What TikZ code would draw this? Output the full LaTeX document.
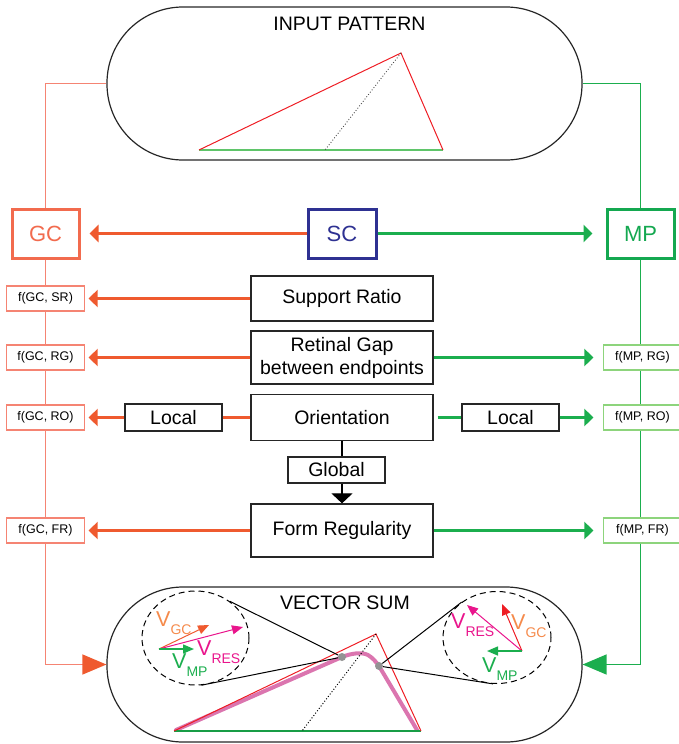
\documentclass[tikz,border=0pt]{standalone}
\usepackage{fontspec}
\setmainfont{Liberation Sans}
\usepackage{xcolor}
\usepackage{tikz}
\usetikzlibrary{shapes.geometric, arrows.meta, positioning, calc}

\definecolor{gcred}{HTML}{EF5A2F}
\definecolor{gcbox}{HTML}{F26B4E}
\definecolor{gcline}{HTML}{F58473}
\definecolor{mpgreen}{HTML}{1BAE4E}
\definecolor{mpbox}{HTML}{14A850}
\definecolor{mpline}{HTML}{8DD47C}
\definecolor{scblue}{HTML}{2E3192}
\definecolor{vgc}{HTML}{F58A4B}
\definecolor{vres}{HTML}{E9158C}
\definecolor{trired}{HTML}{EE1D24}
\definecolor{pinkpath}{HTML}{D766A6}

\newcommand{\vsub}[1]{V\raisebox{-8.5pt}{\fontsize{14}{15}\selectfont #1}}

\tikzset{
  bigtxt/.style={font=\fontsize{19.5}{23}\selectfont},
  cuebox/.style={draw=black!85, line width=1.3pt, fill=white, minimum width=182pt, bigtxt, align=center},
  keybox/.style={draw, line width=3pt, fill=white, minimum width=67pt, minimum height=49pt, font=\fontsize{22}{24}\selectfont},
  fbox/.style={draw, line width=1.2pt, fill=white, minimum width=78pt, minimum height=25pt, font=\fontsize{12.5}{14}\selectfont},
  stadium/.style={draw=black!85, line width=1.2pt, minimum width=475pt, rounded corners=76pt},
  tolt/.style={-{Triangle[length=9pt,width=17pt]}, line width=3pt, gcred},
  tort/.style={-{Triangle[length=9pt,width=17pt]}, line width=3pt, mpgreen},
  vec/.style={-{Triangle[length=11pt,width=9pt]}, line width=1pt},
  gdot/.style={circle, fill=gray!85, inner sep=0pt, minimum size=8pt},
  zoomring/.style={ellipse, draw, dash pattern=on 6pt off 4pt, line width=1pt, inner sep=0pt},
  vtxt/.style={font=\fontsize{21.5}{23}\selectfont, anchor=base west, inner sep=0pt},
}

\begin{document}
\begin{tikzpicture}[x=1pt, y=-1pt]
  \useasboundingbox (0,0) rectangle (678,744);

  % Input pattern
  \node[stadium, minimum height=153pt] (input) at (344.5,83.5) {};
  \node[bigtxt] (inlbl) at (349.5,24) {INPUT PATTERN};
  \draw[mpline!60!mpgreen, line width=2pt] (199,150) -- (443,150);
  \draw[trired, line width=1pt] (199,150) -- (401,53) -- (443,150);
  \draw[black!70, dotted, line width=0.9pt] (401,53) -- (325,150);

  % Grouping cues
  \node[keybox, draw=gcbox, text=gcbox] (gc) at (45.5,233.5) {GC};
  \node[keybox, draw=scblue, text=scblue, minimum width=68pt] (sc) at (342,233.5) {SC};
  \node[keybox, draw=mpbox, text=mpbox] (mp) at (640.5,233.5) {MP};

  % Cue boxes
  \node[cuebox, minimum height=45pt] (sr) at (342,298.5) {Support Ratio};
  \node[cuebox, minimum height=53pt] (rg) at (342,357.5) {Retinal Gap\\between endpoints};
  \node[cuebox, minimum height=46pt] (ori) at (342,417.5) {Orientation};
  \node[cuebox, minimum width=97pt, minimum height=26pt, inner sep=0pt] (glob) at (336.5,470) {Global};
  \node[cuebox, minimum height=53pt] (fr) at (342,530.5) {Form Regularity};
  \node[cuebox, minimum width=97pt, minimum height=27pt, inner sep=0pt] (locl) at (173.5,417.5) {Local};
  \node[cuebox, minimum width=97pt, minimum height=27pt, inner sep=0pt] (locr) at (510.5,417.5) {Local};

  % Weight functions
  \node[fbox, draw=gcline] (fgcsr) at (45.5,298.5) {f(GC, SR)};
  \node[fbox, draw=gcline] (fgcrg) at (45.5,357.5) {f(GC, RG)};
  \node[fbox, draw=gcline] (fgcro) at (45.5,417.5) {f(GC, RO)};
  \node[fbox, draw=gcline] (fgcfr) at (45.5,530.5) {f(GC, FR)};
  \node[fbox, draw=mpline] (fmprg) at (642.5,357.5) {f(MP, RG)};
  \node[fbox, draw=mpline] (fmpro) at (642.5,417.5) {f(MP, RO)};
  \node[fbox, draw=mpline] (fmpfr) at (642.5,530.5) {f(MP, FR)};

  % Horizontal arrows
  \draw[tolt, shorten >=9pt] (sc) -- (gc);
  \draw[tort, shorten >=13pt] (sc) -- (mp);
  \draw[tolt, shorten >=3.5pt] (sr) -- (fgcsr);
  \draw[tolt, shorten >=3.5pt] (rg) -- (fgcrg);
  \draw[tort, shorten >=9.5pt] (rg) -- (fmprg);
  \draw[gcred, line width=3pt] (ori) -- (locl);
  \draw[tolt, shorten >=3.5pt] (locl) -- (fgcro);
  \draw[mpgreen, line width=3pt, shorten <=4pt] (ori) -- (locr);
  \draw[tort, shorten >=9.5pt] (locr) -- (fmpro);
  \draw[tolt, shorten >=3.5pt] (fr) -- (fgcfr);
  \draw[tort, shorten >=9.5pt] (fr) -- (fmpfr);
  \draw[line width=1.2pt] (ori.south) -- (ori.south |- glob.north);
  \draw[line width=1.2pt, -{Triangle[length=10pt,width=21pt]}] (ori.south |- glob.south) -- (fr.north);

  % Side lines
  \draw[gcline, line width=1.4pt] (input.west) -| (gc.north);
  \draw[gcline, line width=1.4pt] (gc) -- (fgcsr) (fgcsr) -- (fgcrg) (fgcrg) -- (fgcro) (fgcro) -- (fgcfr);
  \draw[mpgreen, line width=1.4pt] (input.east) -| (mp.north);
  \draw[mpgreen, line width=1.4pt] (mp.south) -- (mp.south |- fmprg.north)
    (fmprg.south -| mp) -- (fmpro.north -| mp) (fmpro.south -| mp) -- (fmpfr.north -| mp);

  % Vector sum
  \node[stadium, minimum height=155pt] (vecsum) at (344.5,664.5) {};
  \node[bigtxt] (vslbl) at (345,603) {VECTOR SUM};
  \draw[gcline, line width=1.4pt, -{Triangle[length=24pt,width=20pt,color=gcred]}] (fgcfr) |- (vecsum.west);
  \draw[mpgreen, line width=1.4pt, -{Triangle[length=24pt,width=20pt]}] (fmpfr.south -| mp) |- (vecsum.east);

  \draw[pinkpath, line width=4pt, line cap=round, opacity=0.9] (176,730) -- (342,657)
    .. controls (352,653) and (362,652) .. (368,655)
    .. controls (373,658) and (376,662) .. (379,666) -- (417,730);
  \draw[mpgreen!90!black, line width=1.2pt] (174,731) -- (421,731);
  \draw[trired, line width=1pt] (174,731) -- (376,634) -- (421,731);
  \draw[black, dotted, line width=1pt] (376,634) -- (302,731);

  \node[gdot] (pl) at (342,657) {};
  \node[gdot] (pr) at (379,666) {};
  \node[zoomring, minimum width=107pt, minimum height=94pt] (zl) at (195.5,638) {};
  \node[zoomring, minimum width=108pt, minimum height=92pt] (zr) at (497,637.5) {};
  \draw[line width=1pt] (zl.47) -- (pl) (zl.-83) -- (pl);
  \draw[line width=1pt] (zr.135) -- (pr) (zr.-95) -- (pr);

  % Left close-up
  \draw[vec, gcred] (159,649) -- (209,625);
  \draw[vec, vres] (159,649) -- (243,627);
  \draw[vec, mpgreen, line width=1.5pt] (159,649) -- (194,649);
  \node[vtxt, text=vgc] (lgc) at (156,626) {\vsub{GC}};
  \node[vtxt, text=vres] (lres) at (197,655) {\vsub{RES}};
  \node[vtxt, text=mpgreen] (lmp) at (172,668) {\vsub{MP}};

  % Right close-up
  \draw[vec, vres] (522,651) -- (467,605);
  \draw[vec, trired] (522,651) -- (502,604);
  \draw[vec, mpgreen, line width=1.5pt] (522,651) -- (487,651);
  \node[vtxt, text=vres] (rres) at (451,628) {\vsub{RES}};
  \node[vtxt, text=vgc] (rgc) at (511,629) {\vsub{GC}};
  \node[vtxt, text=mpgreen] (rmp) at (482,672) {\vsub{MP}};
\end{tikzpicture}
\end{document}
